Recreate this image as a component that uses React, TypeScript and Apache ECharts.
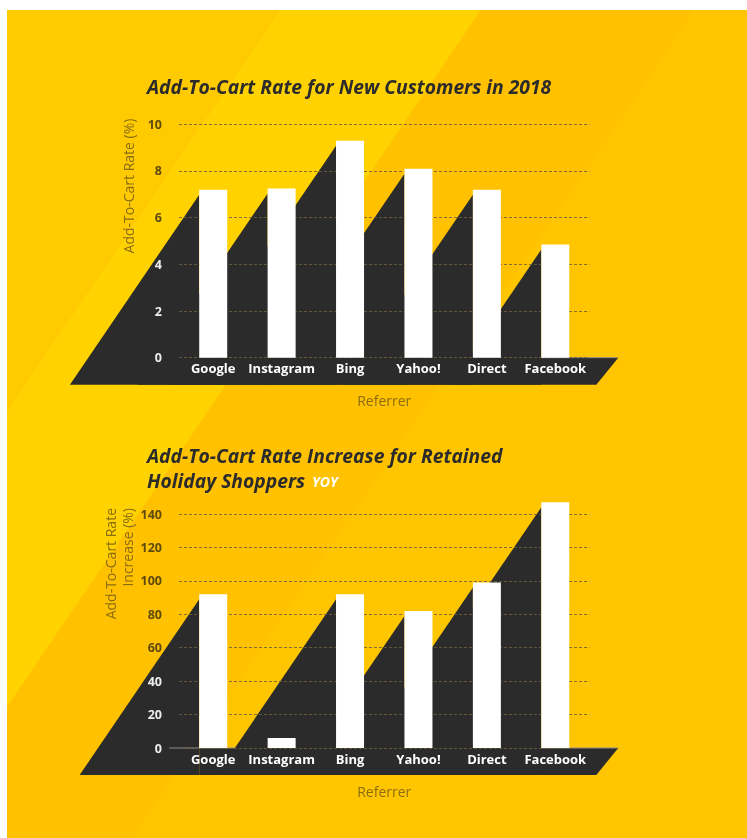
import React, { useEffect, useRef } from "react";
import * as echarts from "echarts";

const categories = ["Google", "Instagram", "Bing", "Yahoo!", "Direct", "Facebook"];
const newCustomerRate = [7.2, 7.25, 9.3, 8.1, 7.2, 4.85];
const retainedIncrease = [92, 6, 92, 82, 99, 147];
const rateTicks = [0, 2, 4, 6, 8, 10];
const increaseTicks = [0, 20, 40, 60, 80, 100, 120, 140];

const DARK = "#2b2b2b";
const BAR_W = 28;
const SLOPE = 1.47;
const FONT = "'Open Sans', Roboto, sans-serif";
const NAME_COLOR = "#8a6d12";
const LABEL_DARK = "#5e4a0c";
const LABEL_LIGHT = "#eeeeee";

function shadowRenderer(params: any, api: any) {
  const i = api.value(0);
  const v = api.value(1);
  const top = api.coord([i, v]);
  const base = api.coord([i, 0]);
  const xL = top[0] - BAR_W / 2;
  const yA = top[1] + 5;
  const yB = base[1] + 27;
  const dx = (yB - yA) / SLOPE;
  const children: any[] = [
    {
      type: "polygon",
      shape: { points: [[xL, yA], [xL, yB], [xL - dx, yB]] },
      style: { fill: DARK },
    },
  ];
  if (params.dataIndex === 0) {
    const last = api.coord([categories.length - 1, 0]);
    children.push({
      type: "polygon",
      shape: {
        points: [
          [xL, base[1]],
          [last[0] + 63, base[1]],
          [last[0] + 41, yB],
          [xL, yB],
        ],
      },
      style: { fill: DARK },
    });
    children.push({
      type: "line",
      shape: { x1: base[0] - 44, y1: base[1], x2: last[0] + 62, y2: base[1] },
      style: { stroke: "#8c8c8c", lineWidth: 1 },
    });
  }
  return { type: "group", children };
}

function makeXAxis(gridIndex: number) {
  return {
    type: "category",
    gridIndex,
    data: categories,
    z: 2,
    axisLine: { show: false },
    axisTick: { show: false },
    axisLabel: {
      interval: 0,
      color: "#ffffff",
      fontFamily: FONT,
      fontWeight: "bold",
      fontSize: 13,
      margin: 4,
    },
    name: "Referrer",
    nameLocation: "middle",
    nameGap: 36,
    nameTextStyle: { color: NAME_COLOR, fontFamily: FONT, fontSize: 14 },
  };
}

function makeYAxis(gridIndex: number, ticks: number[], lightMax: number) {
  return {
    type: "value",
    gridIndex,
    min: ticks[0],
    max: ticks[ticks.length - 1],
    interval: ticks[1] - ticks[0],
    z: 2,
    axisLine: { show: false },
    axisTick: { show: false },
    axisLabel: {
      margin: 17,
      fontFamily: FONT,
      fontWeight: "bold",
      fontSize: 12.5,
      color: (val: any) => (Number(val) <= lightMax ? LABEL_LIGHT : LABEL_DARK),
    },
    splitLine: {
      show: true,
      lineStyle: { color: "rgba(110,95,60,0.85)", width: 1, type: [3, 2] },
    },
  };
}

const TITLE_FONT = `italic bold 19.3px ${FONT}`;

const titleStyle = (text: string) => ({
  text,
  font: TITLE_FONT,
  fill: DARK,
  textAlign: "left",
  textVerticalAlign: "middle",
});

export default function App() {
  const ref = useRef<HTMLDivElement>(null);
  useEffect(() => {
    if (!ref.current) return;
    const chart = echarts.init(ref.current, undefined, { renderer: "svg" });
    const option: any = {
      animation: false,
      grid: [
        { left: 179, top: 124.3, width: 410.5, height: 233.4 },
        { left: 179, top: 514, width: 410.5, height: 234 },
      ],
      xAxis: [makeXAxis(0), makeXAxis(1)],
      yAxis: [makeYAxis(0, rateTicks, 4), makeYAxis(1, increaseTicks, 40)],
      graphic: [
        { type: "rect", z: 0, shape: { x: 7, y: 10, width: 740, height: 828 }, style: { fill: "#FFC600" } },
        {
          type: "polygon",
          z: 0,
          shape: { points: [[7, 10], [280, 10], [7, 411]] },
          style: { fill: "#FFCA00" },
        },
        {
          type: "polygon",
          z: 0,
          shape: { points: [[280, 10], [481, 10], [7, 707], [7, 411]] },
          style: { fill: "#FFD200" },
        },
        {
          type: "polygon",
          z: 0,
          shape: { points: [[481, 10], [695, 10], [132, 838], [7, 838], [7, 707]] },
          style: { fill: "#FFC100" },
        },
        { type: "text", z: 0, x: 147, y: 86, style: titleStyle("Add-To-Cart Rate for New Customers in 2018") },
        { type: "text", z: 0, x: 147, y: 455, style: titleStyle("Add-To-Cart Rate Increase for Retained") },
        {
          type: "text",
          z: 0,
          x: 147,
          y: 480,
          style: {
            text: "{a|Holiday Shoppers}  {b|YOY}",
            textAlign: "left",
            textVerticalAlign: "middle",
            rich: {
              a: { font: TITLE_FONT, fill: DARK, color: DARK },
              b: { font: `italic bold 14px ${FONT}`, fill: "#ffffff", color: "#ffffff", padding: [2, 0, 0, 0] },
            },
          },
        },
        {
          type: "text",
          z: 0,
          x: 128,
          y: 186,
          rotation: Math.PI / 2,
          style: {
            text: "Add-To-Cart Rate (%)",
            font: `14px ${FONT}`,
            fill: NAME_COLOR,
            textAlign: "center",
            textVerticalAlign: "middle",
          },
        },
        {
          type: "text",
          z: 0,
          x: 118.5,
          y: 508,
          rotation: Math.PI / 2,
          style: {
            text: "Add-To-Cart Rate\nIncrease (%)",
            font: `14px ${FONT}`,
            lineHeight: 17,
            fill: NAME_COLOR,
            textAlign: "right",
            textVerticalAlign: "middle",
          },
        },
      ],
      series: [
        {
          type: "custom",
          xAxisIndex: 0,
          yAxisIndex: 0,
          z: 1,
          clip: false,
          silent: true,
          renderItem: shadowRenderer,
          data: newCustomerRate.map((v, i) => [i, v]),
        },
        {
          type: "custom",
          xAxisIndex: 1,
          yAxisIndex: 1,
          z: 1,
          clip: false,
          silent: true,
          renderItem: shadowRenderer,
          data: retainedIncrease.map((v, i) => [i, v]),
        },
        {
          type: "bar",
          xAxisIndex: 0,
          yAxisIndex: 0,
          z: 3,
          clip: false,
          barWidth: BAR_W,
          itemStyle: { color: "#ffffff" },
          data: newCustomerRate,
        },
        {
          type: "bar",
          xAxisIndex: 1,
          yAxisIndex: 1,
          z: 3,
          clip: false,
          barWidth: BAR_W,
          itemStyle: { color: "#ffffff" },
          data: retainedIncrease,
        },
      ],
    };
    chart.setOption(option);
    return () => chart.dispose();
  }, []);
  return (
    <div
      ref={ref}
      style={{ position: "fixed", left: 0, top: 0, width: 747, height: 838 }}
    />
  );
}
